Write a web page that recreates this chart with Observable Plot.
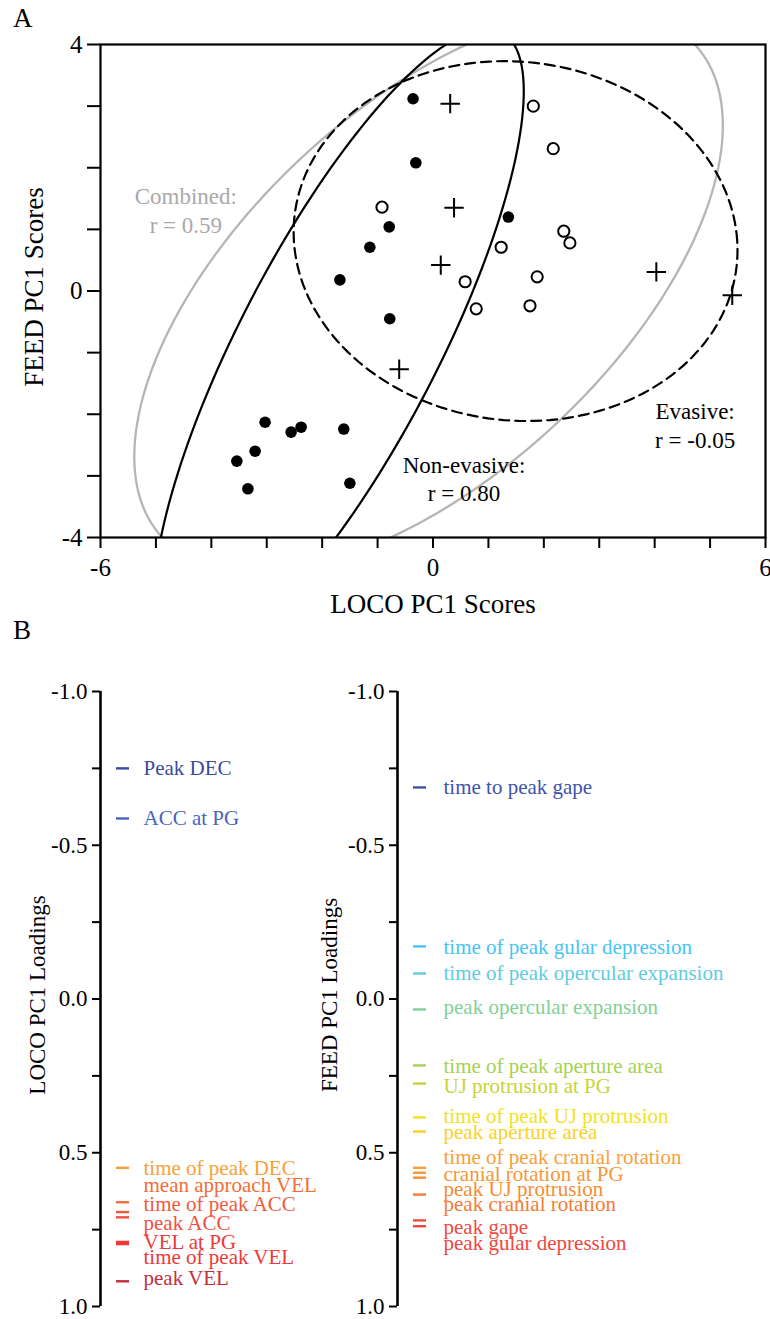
<!DOCTYPE html>
<html>
<head>
<meta charset="utf-8">
<script src="https://cdn.jsdelivr.net/npm/d3@7"></script>
<script src="https://cdn.jsdelivr.net/npm/@observablehq/plot@0.6"></script>
<style>
  body { margin: 0; background: #fff; }
  #fig { position: relative; width: 770px; height: 1319px; font-family: "Liberation Serif", serif; overflow: hidden; }
  #fig .panel { position: absolute; font-size: 27px; line-height: 1; color: #000; }
  #fig svg { position: absolute; }
  #fig [aria-label^="x-axis"] line, #fig [aria-label^="x-axis"] path,
  #fig [aria-label^="y-axis"] line, #fig [aria-label^="y-axis"] path { stroke-width: 2px; }
</style>
</head>
<body>
<div id="fig"></div>
<script>
// ---------- Panel A data: PC1 scores ----------
const nonEvasiveX = [-0.36, -0.31, -0.79, -1.14, -1.68, -0.78, 1.36, -3.03, -2.56, -2.38, -1.61, -3.21, -3.54, -3.34, -1.50];
const nonEvasiveY = [3.12, 2.08, 1.04, 0.71, 0.18, -0.45, 1.20, -2.13, -2.29, -2.21, -2.24, -2.60, -2.76, -3.21, -3.12];
const evasiveOpenX = [-0.92, 1.81, 2.17, 2.36, 2.47, 1.23, 0.58, 1.88, 0.78, 1.75];
const evasiveOpenY = [1.36, 3.00, 2.31, 0.97, 0.78, 0.71, 0.15, 0.23, -0.29, -0.24];
const evasiveCrossX = [0.31, 0.38, 0.14, 4.03, 5.40, -0.61];
const evasiveCrossY = [3.04, 1.35, 0.42, 0.31, -0.07, -1.27];

// ellipses: centre, horizontal semi-diameter, conjugate semi-diameter (data units)
const ellipseNames = ["Combined", "Non-evasive", "Evasive"];
const ellipseCx = [-0.08, -1.70, 1.49];
const ellipseCy = [0.00, -0.88, 0.81];
const ellipseUx = [4.29, 1.99, 4.00];
const ellipseVx = [3.13, 2.68, -0.20];
const ellipseVy = [4.56, 5.13, 2.92];

const annoText = ["Combined:\nr = 0.59", "Non-evasive:\nr = 0.80", "Evasive:\nr = -0.05"];
const annoX = [-4.46, 0.56, 4.73];
const annoY = [1.32, -3.03, -2.16];

const xTicksA = [-6, -5, -4, -3, -2, -1, 0, 1, 2, 3, 4, 5, 6];
const xLabelsA = [-6, 0, 6];
const yTicksA = [-4, -3, -2, -1, 0, 1, 2, 3, 4];
const yLabelsA = [-4, 0, 4];

// ---------- Panel B data: PC1 loadings ----------
const locoNames = ["Peak DEC", "ACC at PG", "time of peak DEC", "mean approach VEL", "time of peak ACC", "peak ACC", "VEL at PG", "time of peak VEL", "peak VEL"];
const locoValues = [-0.750, -0.587, 0.549, 0.661, 0.693, 0.710, 0.790, 0.797, 0.918];
const locoLabelAt = [-0.750, -0.587, 0.549, 0.607, 0.668, 0.730, 0.792, 0.841, 0.909];

const feedNames = ["time to peak gape", "time of peak gular depression", "time of peak opercular expansion", "peak opercular expansion", "time of peak aperture area", "UJ protrusion at PG", "time of peak UJ protrusion", "peak aperture area", "time of peak cranial rotation", "cranial rotation at PG", "peak UJ protrusion", "peak cranial rotation", "peak gape", "peak gular depression"];
const feedValues = [-0.688, -0.171, -0.083, 0.034, 0.216, 0.275, 0.385, 0.431, 0.549, 0.565, 0.581, 0.636, 0.720, 0.739];
const feedLabelAt = [-0.688, -0.168, -0.083, 0.028, 0.219, 0.285, 0.382, 0.434, 0.515, 0.571, 0.620, 0.668, 0.743, 0.795];

const loadingTicks = [-1, -0.75, -0.5, -0.25, 0, 0.25, 0.5, 0.75, 1];

// colour ramp by loading value
const colourStops = [-0.75, -0.59, -0.17, -0.08, 0.03, 0.22, 0.27, 0.38, 0.43, 0.55, 0.58, 0.64, 0.72, 0.80, 0.92];
const colourRange = ["#3b4a9c", "#4a62c0", "#45c5f2", "#62cbe0", "#80d098", "#a6d24e", "#c6d238", "#f0e41c", "#fad21e", "#f8a03a", "#f78c30", "#f57a32", "#f04a40", "#ec3838", "#c42e3a"];
const colourOf = d3.scaleLinear().domain(colourStops).range(colourRange).interpolate(d3.interpolateRgb).clamp(true);

// ---------- build ----------
const fig = document.getElementById("fig");
const serif = "Liberation Serif, Times New Roman, serif";

function pts(xs, ys) { return xs.map((x, i) => ({x, y: ys[i]})); }
const angles = d3.range(0, 361, 2).map(a => a * Math.PI / 180);
function ellipse(i) {
  return angles.map(a => ({
    x: ellipseCx[i] + ellipseUx[i] * Math.cos(a) + ellipseVx[i] * Math.sin(a),
    y: ellipseCy[i] + ellipseVy[i] * Math.sin(a)
  }));
}
const annos = annoText.map((text, i) => ({text, x: annoX[i], y: annoY[i], name: ellipseNames[i]}));

const chartA = Plot.plot({
  width: 770, height: 620,
  marginLeft: 100, marginRight: 5, marginTop: 44, marginBottom: 83,
  style: {fontFamily: serif, fontSize: "25px", background: "transparent", overflow: "visible"},
  x: {domain: [-6, 6], ticks: xTicksA, tickFormat: d => xLabelsA.includes(d) ? String(d) : "", tickSize: 11, tickPadding: 10, label: null},
  y: {domain: [-4, 4], ticks: yTicksA, tickFormat: d => yLabelsA.includes(d) ? String(d) : "", tickSize: 13, tickPadding: 5, label: null},
  marks: [
    Plot.line(ellipse(0), {x: "x", y: "y", stroke: "#b5b5b5", strokeWidth: 2.3, clip: true}),
    Plot.line(ellipse(1), {x: "x", y: "y", stroke: "black", strokeWidth: 2.2, clip: true}),
    Plot.line(ellipse(2), {x: "x", y: "y", stroke: "black", strokeWidth: 2.2, strokeDasharray: "10,6", clip: true}),
    Plot.dot(pts(nonEvasiveX, nonEvasiveY), {x: "x", y: "y", r: 5.8, fill: "black", stroke: "none"}),
    Plot.dot(pts(evasiveOpenX, evasiveOpenY), {x: "x", y: "y", r: 5.6, fill: "white", stroke: "black", strokeWidth: 2}),
    Plot.dot(pts(evasiveCrossX, evasiveCrossY), {x: "x", y: "y", symbol: "plus", r: 6.3, stroke: "black", strokeWidth: 2}),
    Plot.text(annos, {x: "x", y: "y", text: "text", fontSize: 23, lineHeight: 1.25, fontFamily: serif,
      fill: d => d.name === "Combined" ? "#a9a9a9" : "black"}),
    Plot.text(["FEED PC1 Scores"], {text: d => d, frameAnchor: "left", textAnchor: "middle", lineAnchor: "middle", rotate: -90, dx: -66, dy: -4, fontSize: 27, fontFamily: serif}),
    Plot.text(["LOCO PC1 Scores"], {text: d => d, frameAnchor: "bottom", textAnchor: "middle", lineAnchor: "middle", dy: 67, fontSize: 27, fontFamily: serif}),
    Plot.frame({stroke: "black", strokeWidth: 2.2})
  ]
});
chartA.style.left = "0px";
chartA.style.top = "0px";
fig.appendChild(chartA);

function loadingPlot(names, values, labelAt, title, left, width, marginLeft, textX, titleDx) {
  const rows = names.map((name, i) => ({name, value: values[i], labelAt: labelAt[i]}));
  const svg = Plot.plot({
    width, height: 679,
    marginLeft, marginRight: 0, marginTop: 51, marginBottom: 13,
    style: {fontFamily: serif, fontSize: "23px", background: "transparent", overflow: "visible"},
    x: {domain: [0, 300], range: [marginLeft, marginLeft + 300], axis: null},
    y: {domain: [-1, 1], reverse: true, ticks: loadingTicks,
        tickFormat: d => Math.abs(d * 2 - Math.round(d * 2)) < 1e-9 ? d.toFixed(1) : "",
        tickSize: 8, tickPadding: 5, label: null},
    marks: [
      Plot.ruleX([0], {y1: -1, y2: 1, stroke: "black", strokeWidth: 2.6}),
      Plot.ruleY(rows, {y: "value", x1: 16, x2: 29, stroke: d => colourOf(d.value), strokeWidth: 2.4}),
      Plot.text(rows, {x: textX, y: "labelAt", text: "name", textAnchor: "start", fontSize: 21, fontFamily: serif,
        fill: d => colourOf(d.value)}),
      Plot.text([title], {text: d => d, frameAnchor: "left", textAnchor: "middle", lineAnchor: "middle", rotate: -90, dx: titleDx, dy: -4, fontSize: 23, fontFamily: serif})
    ]
  });
  svg.style.left = left + "px";
  svg.style.top = "640px";
  return svg;
}

fig.appendChild(loadingPlot(locoNames, locoValues, locoLabelAt, "LOCO PC1 Loadings", 0, 330, 100, 43, -63));
fig.appendChild(loadingPlot(feedNames, feedValues, feedLabelAt, "FEED PC1 Loadings", 330, 440, 67, 46, -68));

// panel letters
for (const [t, top] of [["A", 5], ["B", 617]]) {
  const d = document.createElement("div");
  d.className = "panel";
  d.textContent = t;
  d.style.left = "13px";
  d.style.top = top + "px";
  fig.appendChild(d);
}
</script>
</body>
</html>
